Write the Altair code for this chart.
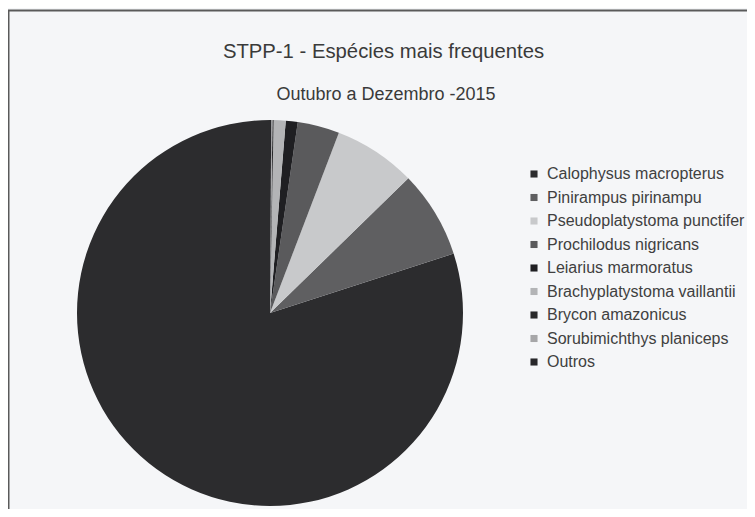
import altair as alt
import pandas as pd

species = [
    "Calophysus macropterus",
    "Pinirampus pirinampu",
    "Pseudoplatystoma punctifer",
    "Prochilodus nigricans",
    "Leiarius marmoratus",
    "Brachyplatystoma vaillantii",
    "Brycon amazonicus",
    "Sorubimichthys planiceps",
    "Outros",
]
percent = [79.9, 7.3, 6.9, 3.5, 1.0, 1.0, 0.1, 0.1, 0.1]
grays = ["#2c2c2e", "#5f5f61", "#c8c9cb", "#5a5a5c", "#1f1f22",
         "#b3b4b6", "#29292b", "#a6a6a8", "#27272a"]

title_text = "STPP-1 - Espécies mais frequentes"
subtitle_text = "Outubro a Dezembro -2015"

df = pd.DataFrame({
    "especie": species,
    "valor": percent,
    # slices run counter-clockwise from 12 o'clock in the original
    "ordem": list(range(len(species)))[::-1],
})

pie = alt.Chart(df).mark_arc(outerRadius=193, stroke=None).encode(
    theta=alt.Theta("valor:Q", stack=True),
    order=alt.Order("ordem:Q", sort="ascending"),
    color=alt.Color(
        "especie:N",
        scale=alt.Scale(domain=species, range=grays),
        sort=species,
        legend=alt.Legend(
            title=None,
            orient="none",
            legendX=518,
            legendY=158,
            padding=0,
            symbolType="square",
            symbolSize=50,
            symbolStrokeWidth=0,
            labelFontSize=16,
            labelFont="Liberation Sans",
            labelColor="#404040",
            labelOffset=5,
            rowPadding=7.5,
            labelLimit=400,
        ),
    ),
    x=alt.value(262),
    y=alt.value(305),
)

frame = alt.Chart(pd.DataFrame({"a": [0]})).mark_rect(
    fillOpacity=0, stroke="#5a5a5a", strokeWidth=2
).encode(x=alt.value(0.5), x2=alt.value(800), y=alt.value(2.5), y2=alt.value(600))

title = alt.Chart(pd.DataFrame({"t": [title_text]})).mark_text(
    font="Liberation Sans", fontSize=20.3, color="#3a3a3a", align="center", baseline="alphabetic"
).encode(text="t:N", x=alt.value(375.5), y=alt.value(50.3))

subtitle = alt.Chart(pd.DataFrame({"t": [subtitle_text]})).mark_text(
    font="Liberation Sans", fontSize=18, color="#3a3a3a", align="center", baseline="alphabetic"
).encode(text="t:N", x=alt.value(378), y=alt.value(92))

chart = alt.layer(frame, pie, title, subtitle).properties(
    width=739, height=501, padding=0, autosize="none", background="#f5f6f8"
).configure_view(stroke=None)

chart.save("out.html", embed_options={"renderer": "svg", "actions": False})
